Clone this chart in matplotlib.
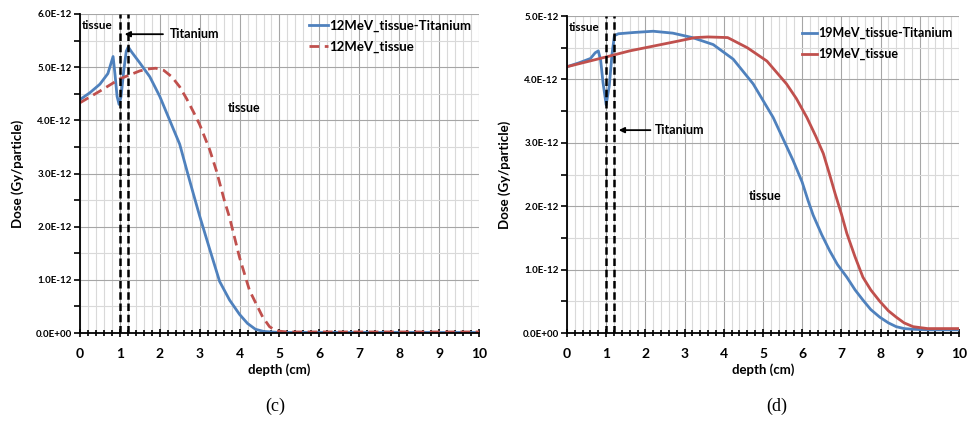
import numpy as np
import matplotlib.pyplot as plt
from matplotlib.ticker import MultipleLocator, FuncFormatter

plt.rcParams['font.family'] = ['Lato', 'DejaVu Sans']

# 12 MeV panel (c), dose in units of 1E-12 Gy/particle
d12_ti = [0, 0.25, 0.5, 0.7, 0.83, 0.88, 0.93, 0.98, 1.03, 1.1, 1.16, 1.21, 1.3, 1.5, 1.75, 2.0,
          2.25, 2.5, 2.7, 2.83, 3.0, 3.25, 3.5, 3.75, 4.0, 4.2, 4.4, 4.6, 5.0, 6, 7, 8, 9, 10]
v12_ti = [4.39, 4.52, 4.68, 4.88, 5.2, 4.85, 4.45, 4.3, 4.45, 4.95, 5.3, 5.38, 5.28, 5.08, 4.82, 4.45,
          4.0, 3.55, 3.0, 2.65, 2.2, 1.58, 0.97, 0.62, 0.35, 0.18, 0.07, 0.03, 0.01, 0.01, 0.01,
          0.01, 0.01, 0.01]
d12_t = [0, 0.5, 1.0, 1.5, 1.75, 1.9, 2.1, 2.3, 2.5, 2.67, 2.85, 3.0, 3.25, 3.42, 3.62, 3.75, 4.0,
         4.25, 4.58, 4.75, 4.92, 5.2, 6, 7, 8, 9, 10]
v12_t = [4.33, 4.55, 4.78, 4.93, 4.97, 4.98, 4.94, 4.82, 4.63, 4.41, 4.15, 3.92, 3.45, 3.05, 2.49,
         2.17, 1.42, 0.8, 0.3, 0.12, 0.04, 0.02, 0.02, 0.02, 0.02, 0.02, 0.02]

# 19 MeV panel (d)
d19_ti = [0, 0.3, 0.6, 0.72, 0.8, 0.86, 0.92, 1.0, 1.08, 1.15, 1.21, 1.31, 1.7, 2.2, 2.7, 3.2,
          3.73, 4.24, 4.75, 5.26, 5.77, 6.0, 6.15, 6.28, 6.5, 6.7, 6.9, 7.14, 7.35, 7.55, 7.75,
          7.98, 8.2, 8.4, 8.6, 8.8, 9.2, 10]
v19_ti = [4.2, 4.26, 4.33, 4.42, 4.45, 4.3, 3.95, 3.6, 3.9, 4.4, 4.69, 4.72, 4.74, 4.76, 4.73,
          4.66, 4.55, 4.32, 3.93, 3.4, 2.72, 2.38, 2.09, 1.86, 1.55, 1.3, 1.08, 0.88, 0.68, 0.52,
          0.37, 0.25, 0.16, 0.1, 0.07, 0.06, 0.05, 0.05]
d19_t = [0, 0.97, 1.6, 2.24, 2.8, 3.27, 3.6, 4.1, 4.6, 5.1, 5.6, 5.85, 6.12, 6.35, 6.54, 6.7,
         6.84, 7.0, 7.14, 7.35, 7.55, 7.75, 7.98, 8.2, 8.4, 8.6, 8.83, 9.2, 10]
v19_t = [4.2, 4.35, 4.45, 4.53, 4.6, 4.66, 4.67, 4.66, 4.5, 4.29, 3.93, 3.7, 3.4, 3.1, 2.83, 2.5,
         2.2, 1.88, 1.57, 1.2, 0.88, 0.68, 0.5, 0.35, 0.25, 0.16, 0.1, 0.07, 0.07]

blue = '#4F81BD'
red = '#C0504D'

fig = plt.figure(figsize=(9.67, 4.33), dpi=100)
ax1 = fig.add_axes([0.0827, 0.2309, 0.4126, 0.7368])
ax2 = fig.add_axes([0.5863, 0.2309, 0.4054, 0.7321])


def style_axis(ax, ymax):
    ax.set_xlim(0, 10)
    ax.set_ylim(0, ymax)
    ax.xaxis.set_major_locator(MultipleLocator(1))
    ax.xaxis.set_minor_locator(MultipleLocator(0.2))
    ax.yaxis.set_major_locator(MultipleLocator(1e-12))
    ax.yaxis.set_minor_locator(MultipleLocator(0.5e-12))
    ax.yaxis.set_major_formatter(FuncFormatter(lambda v, p: f"{v:.1E}"))
    ax.grid(True, which='major', color='#A6A6A6', lw=0.8)
    ax.grid(True, which='minor', color='#D9D9D9', lw=0.8)
    ax.set_axisbelow(True)
    for s in ['top', 'right']:
        ax.spines[s].set_visible(False)
    for s in ['left', 'bottom']:
        ax.spines[s].set_linewidth(1.3)
    ax.tick_params(axis='x', which='both', direction='inout', length=6, width=1.2,
                   labelsize=10, pad=8)
    ax.tick_params(axis='x', which='minor', length=5)
    ax.tick_params(axis='y', which='both', direction='out', length=4, width=1.2,
                   labelsize=7, pad=2)
    for lab in ax.get_xticklabels() + ax.get_yticklabels():
        lab.set_fontweight('bold')
    ax.set_xlabel('depth (cm)', fontsize=9.5, fontweight='bold', labelpad=2)
    ax.set_ylabel('Dose (Gy/particle)', fontsize=9.5, fontweight='bold', labelpad=8)


# panel (c)
style_axis(ax1, 6e-12)
ax1.plot(d12_ti, np.array(v12_ti) * 1e-12, color=blue, lw=2, label='12MeV_tissue-Titanium')
ax1.plot(d12_t, np.array(v12_t) * 1e-12, color=red, lw=2, ls=(0, (3.5, 2)), label='12MeV_tissue')
for xv in [1.0, 1.2]:
    ax1.axvline(xv, color='black', lw=1.8, ls=(0, (3, 1.5)))
ax1.text(0.05, 5.72e-12, 'tissue', fontsize=8.5, fontweight='bold')
ax1.annotate('', xy=(1.05, 5.62e-12), xytext=(2.15, 5.62e-12),
             arrowprops=dict(arrowstyle='-|>', color='black', lw=1.3, mutation_scale=8))
ax1.text(2.25, 5.62e-12, 'Titanium', fontsize=9, fontweight='bold', va='center')
ax1.text(3.7, 4.15e-12, 'tissue', fontsize=9, fontweight='bold')
leg1 = ax1.legend(loc='upper left', bbox_to_anchor=(0.545, 1.02), frameon=False,
                  handlelength=1.4, handletextpad=0.1, labelspacing=0.7,
                  prop={'size': 9.5, 'weight': 'bold'})

# panel (d)
style_axis(ax2, 5e-12)
ax2.plot(d19_ti, np.array(v19_ti) * 1e-12, color=blue, lw=2, label='19MeV_tissue-Titanium')
ax2.plot(d19_t, np.array(v19_t) * 1e-12, color=red, lw=2, label='19MeV_tissue')
for xv in [1.0, 1.2]:
    ax2.axvline(xv, color='black', lw=1.8, ls=(0, (3, 1.5)))
ax2.text(0.05, 4.76e-12, 'tissue', fontsize=8.5, fontweight='bold')
ax2.annotate('', xy=(1.25, 3.2e-12), xytext=(2.2, 3.2e-12),
             arrowprops=dict(arrowstyle='-|>', color='black', lw=1.3, mutation_scale=8))
ax2.text(2.25, 3.2e-12, 'Titanium', fontsize=9, fontweight='bold', va='center')
ax2.text(4.65, 2.1e-12, 'tissue', fontsize=9, fontweight='bold')
leg2 = ax2.legend(loc='upper left', bbox_to_anchor=(0.57, 1.0), frameon=False,
                  handlelength=1.2, handletextpad=0.1, labelspacing=0.7,
                  prop={'size': 9, 'weight': 'bold'})

fig.text(0.285, 0.05, '(c)', fontsize=13, family='Liberation Serif', ha='center')
fig.text(0.803, 0.05, '(d)', fontsize=13, family='Liberation Serif', ha='center')

fig.savefig('out.png', dpi=100, facecolor='white')
